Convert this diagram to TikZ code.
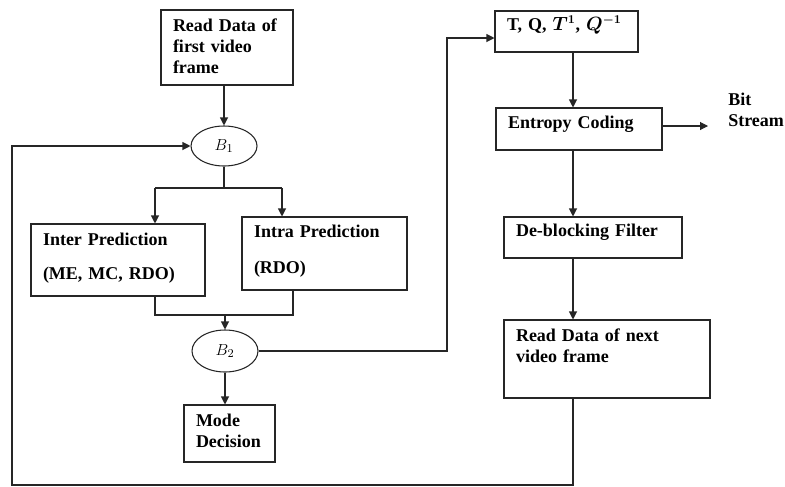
\documentclass[tikz,border=0pt]{standalone}
\usepackage{fontspec}
\setmainfont{Liberation Serif}
\usepackage{amsmath}
\usepackage{bm}
\usetikzlibrary{positioning}
\usetikzlibrary{arrows.meta}
\usetikzlibrary{shapes.geometric}

\tikzset{
    wire/.style={draw=black!85, line width=0.8pt},
    arr/.style={wire, -{Triangle[length=6pt,width=6pt]}},
    box/.style={draw=black!85, line width=0.8pt, align=left, inner xsep=9pt, inner ysep=0pt,
        text height=0pt, font=\bfseries\fontsize{13.5pt}{15.75pt}\selectfont},
    decision/.style={draw=black!85, line width=0.8pt, ellipse, minimum width=49.5pt,
        minimum height=30pt, inner sep=0pt, font=\fontsize{12.5pt}{15pt}\selectfont}
}

\begin{document}
\begin{tikzpicture}[x=0.75pt, y=-0.75pt]
    \useasboundingbox (0,0) rectangle (785,486);

    % left column
    \node[box, text width=81pt, minimum height=56.25pt, text depth=23.7pt] (first) at (227,47.5) {Read Data of\\first video\\frame};
    \node[decision] (b1) at (224,146) {$B_1$};
    \node[box, text width=112.5pt, minimum height=54pt, text depth=22.5pt] (inter) at (118,260) {Inter Prediction\\[10.25pt](ME, MC, RDO)};
    \node[box, text width=105.75pt, minimum height=54.75pt, text depth=24.3pt] (intra) at (324.5,253.5) {Intra Prediction\\[11.25pt](RDO)};
    \node[decision, minimum height=31.5pt] (b2) at (225,351) {$B_2$};
    \node[box, text width=50.25pt, minimum height=42.75pt, text depth=10.2pt] (mode) at (229.5,433.5) {Mode\\Decision};

    % right column
    \node[box, text width=89.25pt, minimum height=30.75pt, text depth=2.25pt] (tq) at (566.5,31.5) {T, Q, $\bm{T^1}$, $\bm{Q^{-1}}$};
    \node[box, text width=106.5pt, minimum height=31.5pt, text depth=1pt] (entropy) at (579,129) {Entropy Coding};
    \node[box, text width=115.5pt, minimum height=30.75pt, text depth=1.2pt] (deblock) at (593,237.5) {De-blocking Filter};
    \node[box, text width=136.5pt, minimum height=58.5pt, text depth=27pt] (next) at (607,359) {Read Data of next\\[0.5pt]video frame};
    \node[font=\bfseries\fontsize{13.5pt}{15.75pt}\selectfont, align=left, inner sep=0pt, anchor=base west] (bit) at (728,126) {Bit\\Stream};

    % bends
    \coordinate (lbranch) at (155,188);
    \coordinate (rbranch) at (282,188);
    \coordinate (lmerge) at (155,315);
    \coordinate (rmerge) at (293,315);
    \coordinate (riser) at (447,38);
    \coordinate (col) at (573,0);
    \coordinate (bitend) at (708,126);
    \coordinate (loop) at (12,485);

    \draw[arr] (first.south -| b1.north) -- (b1.north);
    \draw[wire] (b1.south) -- (b1.south |- lbranch);
    \draw[wire] (lbranch) -- (rbranch);
    \draw[arr] (lbranch) -- (inter.north -| lbranch);
    \draw[arr] (rbranch) -- (intra.north -| rbranch);
    \draw[wire] (inter.south -| lmerge) -- (lmerge) -- (rmerge) -- (intra.south -| rmerge);
    \draw[arr] (b2.north |- lmerge) -- (b2.north);
    \draw[arr] (b2.south) -- (mode.north -| b2.south);
    \draw[arr] (b2.east) -| (riser) -- (riser -| tq.west);
    \draw[arr] (tq.south -| col) -- (entropy.north -| col);
    \draw[arr] (entropy.east |- bitend) -- (bitend);
    \draw[arr] (entropy.south -| col) -- (deblock.north -| col);
    \draw[arr] (deblock.south -| col) -- (next.north -| col);
    \draw[arr] (next.south -| col) -- (col |- loop) -- (loop) |- (b1.west);
\end{tikzpicture}
\end{document}
